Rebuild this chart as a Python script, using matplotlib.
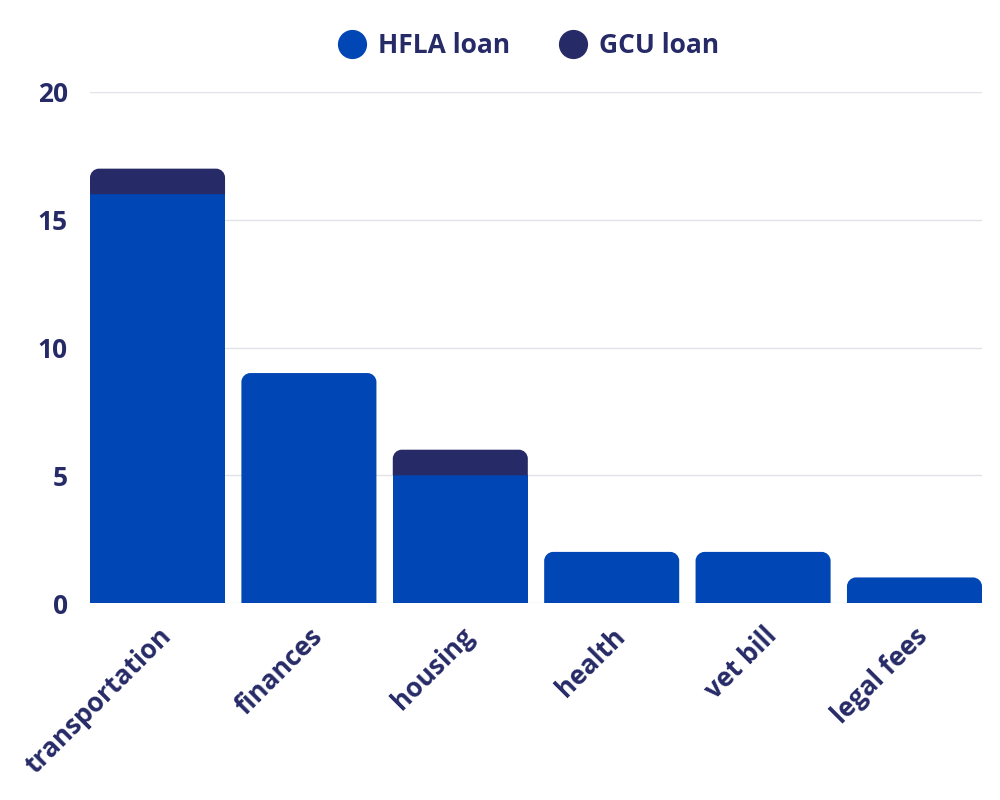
import matplotlib
matplotlib.use("Agg")
import matplotlib.pyplot as plt
from matplotlib.path import Path
from matplotlib.patches import PathPatch
from matplotlib.lines import Line2D

categories = ["transportation", "finances", "housing", "health", "vet bill", "legal fees"]
hfla = [16, 9, 5, 2, 2, 1]
gcu = [1, 0, 1, 0, 0, 0]
yticks = [0, 5, 10, 15, 20]

C_HFLA = "#0046b4"
C_GCU = "#262a66"
C_TEXT = "#262a66"
FONT = ["Open Sans", "DejaVu Sans"]
plt.rcParams["font.family"] = FONT

fig = plt.figure(figsize=(10, 8), dpi=100)
ax = fig.add_axes([0.09, 0.24625, 0.892, 0.63875])

x = list(range(len(categories)))
width = 0.892
b1 = ax.bar(x, hfla, width=width, color=C_HFLA, zorder=2, linewidth=0)
b2 = ax.bar(x, gcu, width=width, bottom=hfla, color=C_GCU, zorder=2, linewidth=0)

ax.set_xlim(-0.446, len(categories) - 1 + 0.446)
ax.set_ylim(0, 20)

# round the top corners of each stack
fig.canvas.draw()
bbox = ax.get_window_extent()
px_per_x = bbox.width / (ax.get_xlim()[1] - ax.get_xlim()[0])
px_per_y = bbox.height / (ax.get_ylim()[1] - ax.get_ylim()[0])
r_px = 9
rx = r_px / px_per_x
ry = r_px / px_per_y
k = 0.5523

def rounded_top(x0, y0, w, h, rx, ry):
    x1 = x0 + w
    y1 = y0 + h
    ryy = min(ry, h)
    verts = [
        (x0, y0), (x0, y1 - ryy),
        (x0, y1 - ryy + k * ryy), (x0 + rx - k * rx, y1), (x0 + rx, y1),
        (x1 - rx, y1),
        (x1 - rx + k * rx, y1), (x1, y1 - ryy + k * ryy), (x1, y1 - ryy),
        (x1, y0), (x0, y0),
    ]
    codes = [Path.MOVETO, Path.LINETO,
             Path.CURVE4, Path.CURVE4, Path.CURVE4,
             Path.LINETO,
             Path.CURVE4, Path.CURVE4, Path.CURVE4,
             Path.LINETO, Path.CLOSEPOLY]
    return Path(verts, codes)

for rh, rg in zip(b1.patches, b2.patches):
    if rg.get_height() > 0:
        top = rg
    else:
        top = rh
    top.set_visible(False)
    p = PathPatch(rounded_top(top.get_x(), top.get_y(), top.get_width(), top.get_height(), rx, ry),
                  facecolor=top.get_facecolor(), edgecolor="none", zorder=2)
    ax.add_patch(p)

ax.set_yticks(yticks)
ax.set_yticklabels([str(v) for v in yticks])
ax.set_xticks(x)
ax.set_xticklabels(categories, rotation=45, ha="right", va="top", rotation_mode="anchor")
ax.tick_params(axis="both", length=0, labelsize=19, labelcolor=C_TEXT)
ax.tick_params(axis="y", pad=16)
ax.tick_params(axis="x", pad=14)
for lab in ax.get_xticklabels() + ax.get_yticklabels():
    lab.set_fontweight("bold")

ax.grid(axis="y", color="#e2e2ea", linewidth=1, zorder=0)
ax.set_axisbelow(True)
for s in ax.spines.values():
    s.set_visible(False)

handles = [
    Line2D([], [], marker="o", linestyle="none", markersize=20, markerfacecolor=C_HFLA, markeredgecolor=C_HFLA),
    Line2D([], [], marker="o", linestyle="none", markersize=20, markerfacecolor=C_GCU, markeredgecolor=C_GCU),
]
leg = fig.legend(handles, ["HFLA loan", "GCU loan"], loc="center", bbox_to_anchor=(0.529, 0.943),
                 ncol=2, frameon=False, handlelength=1.0, handletextpad=0.5, columnspacing=1.85,
                 prop={"family": FONT, "weight": "bold", "size": 19})
for t in leg.get_texts():
    t.set_color(C_TEXT)

fig.savefig("out.png", dpi=100, facecolor="white")
